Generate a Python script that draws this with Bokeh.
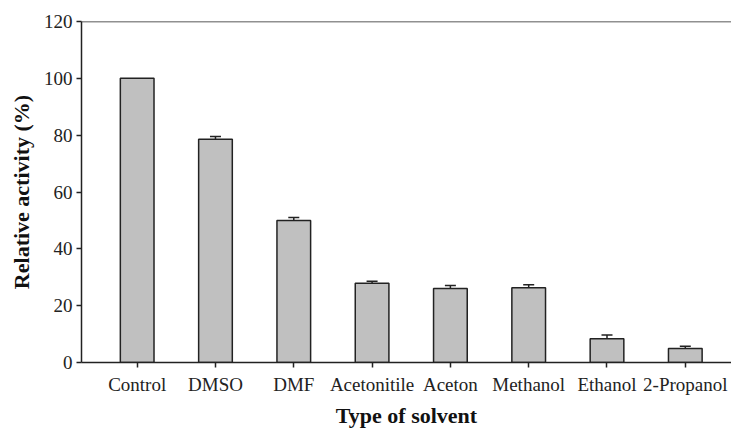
from bokeh.plotting import figure
from bokeh.models import Range1d, FixedTicker, Span, ColumnDataSource, Whisker, TeeHead
from bokeh.embed import file_html
from bokeh.resources import INLINE

solvents = ["Control", "DMSO", "DMF", "Acetonitile", "Aceton", "Methanol", "Ethanol", "2-Propanol"]
activity = [100.0, 78.6, 50.0, 27.9, 26.0, 26.3, 8.4, 4.9]
error = [0.0, 0.9, 1.0, 0.7, 1.1, 1.1, 1.3, 0.8]
y_ticks = [0, 20, 40, 60, 80, 100, 120]

xs = list(range(len(solvents)))
src = ColumnDataSource(dict(x=xs, top=activity))
err_idx = [i for i, e in enumerate(error) if e > 0]
esrc = ColumnDataSource(dict(x=[xs[i] for i in err_idx],
                             lower=[activity[i] for i in err_idx],
                             upper=[activity[i] + error[i] for i in err_idx]))

p = figure(width=731, height=430, output_backend="svg", toolbar_location=None,
           x_range=Range1d(-0.711, 7.59), y_range=Range1d(0, 120),
           min_border_left=81, min_border_top=21, min_border_right=0, min_border_bottom=68)
p.outline_line_color = None
p.grid.visible = False
p.background_fill_color = "white"
p.border_fill_color = "white"

p.vbar(x="x", top="top", bottom=0, width=0.43, source=src,
       fill_color="#c0c0c0", line_color="#222222", line_width=1.5)

wh = Whisker(base="x", lower="lower", upper="upper", source=esrc,
             line_color="#222222", line_width=1.5,
             upper_head=TeeHead(size=11, line_color="#222222", line_width=1.5),
             lower_head=None)
p.add_layout(wh)

p.add_layout(Span(location=120, dimension="width", line_color="#222222", line_width=1.5))

font = "Liberation Serif"
p.xaxis.ticker = FixedTicker(ticks=xs)
p.xaxis.major_label_overrides = {i: s for i, s in enumerate(solvents)}
p.yaxis.ticker = FixedTicker(ticks=y_ticks)
for ax in (p.xaxis, p.yaxis):
    ax.axis_line_color = "#222222"
    ax.axis_line_width = 1.5
    ax.major_tick_line_color = "#222222"
    ax.major_tick_line_width = 1.5
    ax.major_tick_out = 5
    ax.major_tick_in = 0
    ax.minor_tick_line_color = None
    ax.major_label_text_font = font
    ax.major_label_text_font_size = "19px"
    ax.major_label_text_color = "#222222"
    ax.axis_label_text_font = font
    ax.axis_label_text_font_size = "22px"
    ax.axis_label_text_font_style = "bold"
    ax.axis_label_text_color = "#111111"
p.xaxis.axis_label = "Type of solvent"
p.yaxis.axis_label = "Relative activity (%)"
p.xaxis.major_label_standoff = 6
p.yaxis.major_label_standoff = 4
p.xaxis.axis_label_standoff = 5
p.yaxis.axis_label_standoff = 7

open("out.html", "w").write(file_html(p, INLINE))
